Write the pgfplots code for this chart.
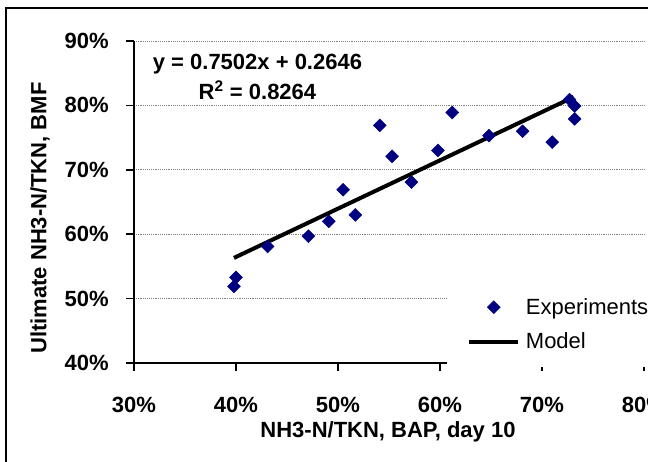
\documentclass[border=0pt]{standalone}
\usepackage{pgfplots}
\pgfplotsset{compat=1.18}
\usepackage{fontspec}
\setmainfont{Liberation Sans}
\definecolor{navy}{RGB}{0,0,128}
\newcommand{\fs}{\fontsize{16.5}{19.8}\selectfont}
\pgfplotsset{
  mymarklegend/.style={legend image code/.code={\draw[##1,mark repeat=2,mark phase=2] plot coordinates {(0pt,0pt)(18.4pt,0pt)(36.75pt,0pt)};\path (39pt,0pt);}},
  mylinelegend/.style={legend image code/.code={\draw[##1] (0pt,0pt) -- (36.75pt,0pt);\path (39pt,0pt);}},
}
\begin{document}
\begin{tikzpicture}
\begin{axis}[
  at={(0,0)}, anchor=south west,
  scale only axis, width=382.5pt, height=241.5pt,
  xmin=0.3, xmax=0.8, ymin=0.4, ymax=0.9,
  axis x line*=bottom, axis y line*=left,
  axis line style={line width=1.6pt, -},
  xtick={0.3,0.4,0.5,0.6,0.7,0.8},
  xticklabels={30\%,40\%,50\%,60\%,70\%,80\%},
  ytick={0.4,0.5,0.6,0.7,0.8,0.9},
  yticklabels={40\%,50\%,60\%,70\%,80\%,90\%},
  tick align=outside, major tick length=6pt,
  tick style={line width=1.3pt, black},
  ymajorgrids, major grid style={densely dotted, gray, line width=0.7pt},
  tick label style={font=\fs\bfseries, inner sep=0pt},
  xticklabel style={anchor=north, yshift=-19.5pt},
  yticklabel style={anchor=east, xshift=-12.75pt},
  xlabel={NH3-N/TKN, BAP, day 10},
  ylabel={Ultimate NH3-N/TKN, BMF},
  label style={font=\fs\bfseries},
  x label style={at={(axis description cs:0.498,-0.2143)}, anchor=center},
  y label style={at={(axis description cs:-0.1843,0.4503)}, anchor=center},
  legend style={at={(rel axis cs:0.6137,0.2516)}, anchor=north west, draw=none, fill=white, font=\fs, inner xsep=15pt, inner ysep=10pt, row sep=8.5pt},
  legend cell align=left,
  clip=false,
]
\addplot[only marks, mark=square*, mark size=3.4pt, mark options={rotate=45, fill=navy, draw=navy, line width=0.4pt}, mymarklegend]
coordinates {
(0.398,0.519) (0.400,0.533) (0.431,0.581) (0.471,0.597) (0.491,0.620)
(0.505,0.669) (0.517,0.630) (0.541,0.769) (0.553,0.721) (0.572,0.681)
(0.598,0.730) (0.612,0.789) (0.648,0.753) (0.681,0.760) (0.710,0.743)
(0.727,0.809) (0.732,0.799) (0.732,0.779)
};
\addlegendentry{Experiments}
\addplot[black, line width=3pt, no marks, mylinelegend]
coordinates {(0.398,0.5632) (0.731,0.8130)};
\addlegendentry{Model}
\node[anchor=base, font=\fs\bfseries] at (rel axis cs:0.2421,0.913) {y = 0.7502x + 0.2646};
\node[anchor=base, font=\fs\bfseries] at (rel axis cs:0.2421,0.8168) {R\textsuperscript{2} = 0.8264};
\end{axis}
\pgfresetboundingbox
\path[use as bounding box] (-100.5pt,-73.5pt) rectangle (385.5pt,272.25pt);
\draw[line width=1.5pt] (-96.2pt,-90pt) rectangle (400pt,266pt);
\end{tikzpicture}
\end{document}
